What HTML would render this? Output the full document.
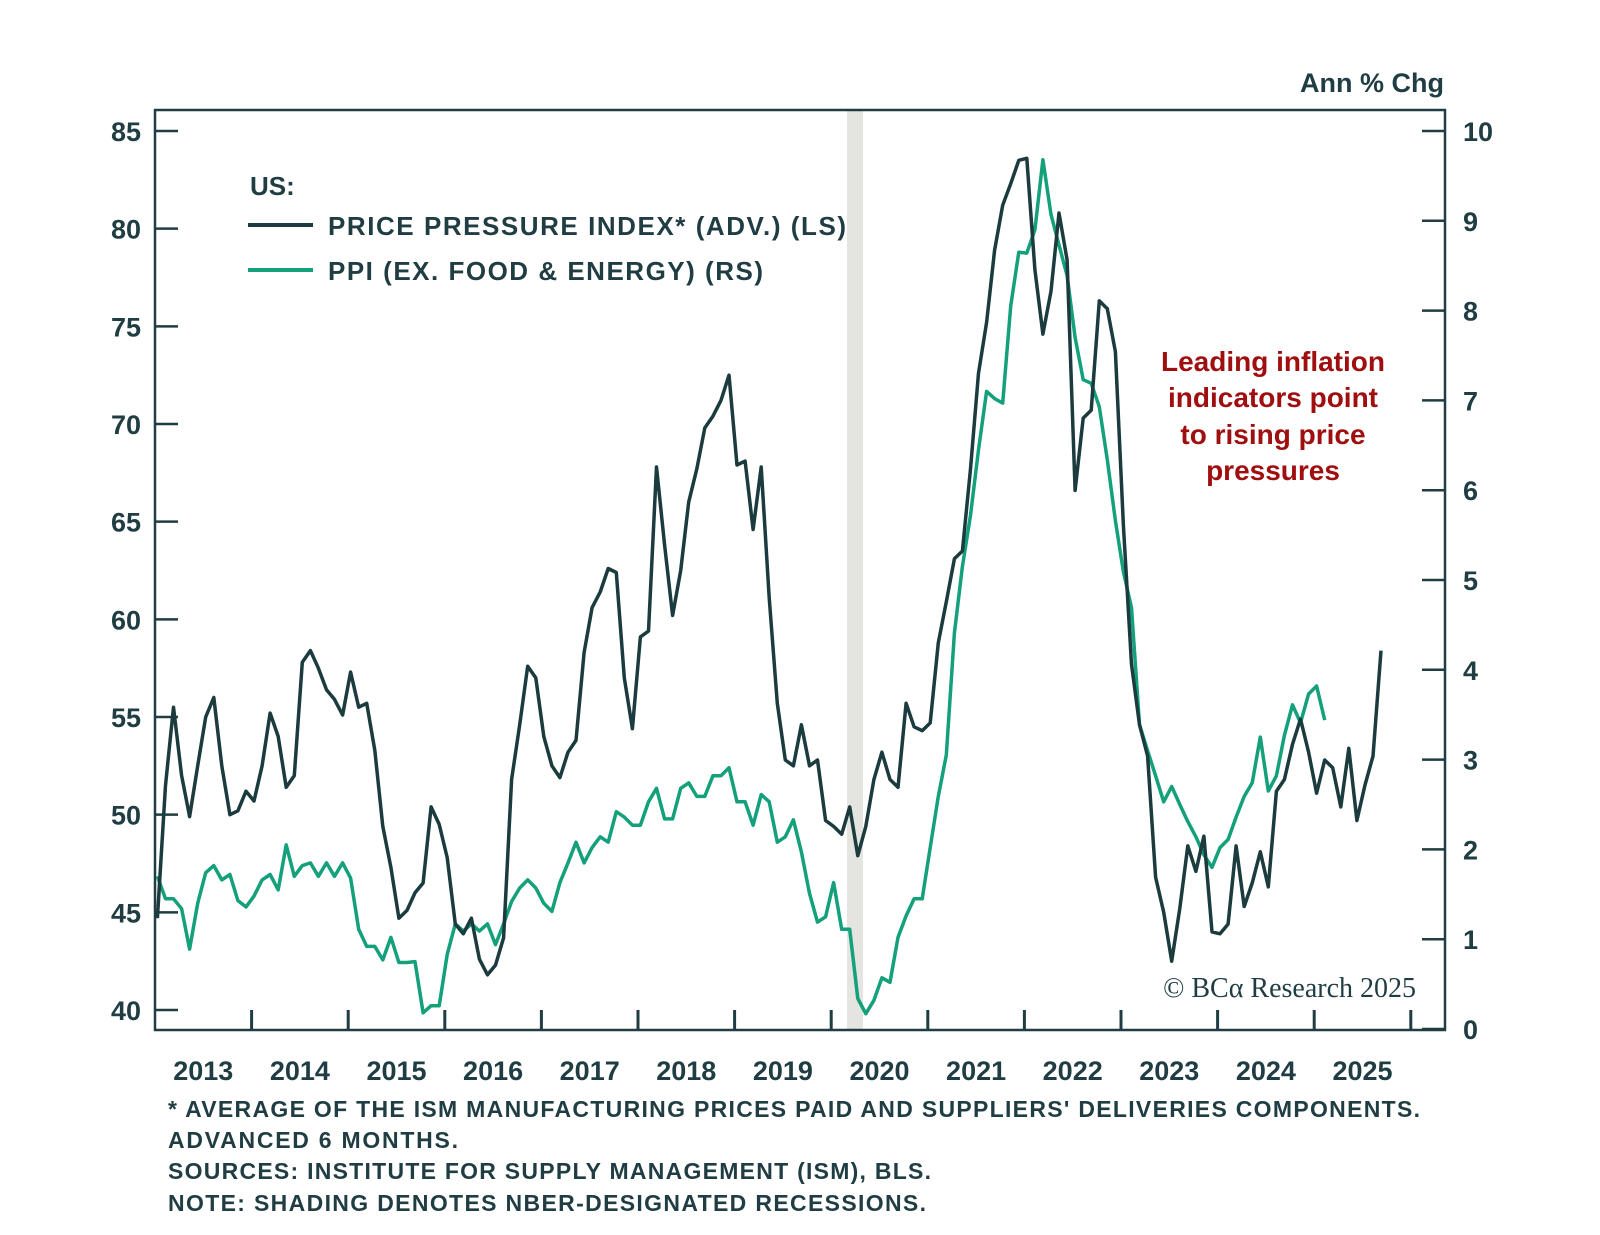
<!DOCTYPE html>
<html><head><meta charset="utf-8">
<style>
html,body{margin:0;padding:0;background:#fff;}
body{width:1600px;height:1230px;overflow:hidden;font-family:"Liberation Sans",sans-serif;}
svg text{font-family:"Liberation Sans",sans-serif;}
</style></head>
<body>
<svg id="chart" width="1600" height="1230" viewBox="0 0 1600 1230" xmlns="http://www.w3.org/2000/svg">
  <rect x="847" y="111" width="16" height="918" fill="#e4e4e0"/>
  <g id="ticks"></g>
  <g id="series"></g>
  <rect x="155" y="110" width="1290" height="920" fill="none" stroke="#1f3d42" stroke-width="2.5"/>
  <text x="1444" y="92" text-anchor="end" font-size="27" font-weight="bold" fill="#1f3d42">Ann % Chg</text>
  <text x="250" y="195" font-size="26" font-weight="bold" fill="#1f3d42">US:</text>
  <line x1="248" y1="225" x2="313" y2="225" stroke="#1b3b3e" stroke-width="4"/>
  <text x="328" y="235" font-size="26" font-weight="bold" fill="#1f3d42" textLength="518" lengthAdjust="spacing">PRICE PRESSURE INDEX* (ADV.) (LS)</text>
  <line x1="248" y1="270" x2="313" y2="270" stroke="#13a07a" stroke-width="4"/>
  <text x="328" y="280" font-size="26" font-weight="bold" fill="#1f3d42" textLength="435" lengthAdjust="spacing">PPI (EX. FOOD &amp; ENERGY) (RS)</text>
  <g font-size="28" font-weight="bold" fill="#a00f0f" text-anchor="middle">
    <text x="1273" y="371">Leading inflation</text>
    <text x="1273" y="407">indicators point</text>
    <text x="1273" y="444">to rising price</text>
    <text x="1273" y="480">pressures</text>
  </g>
  <text x="1416" y="997" text-anchor="end" font-size="28" fill="#1f3d42" style="font-family:'Liberation Serif',serif">© BCα Research 2025</text>
  <g font-size="23" font-weight="bold" fill="#1f3d42">
    <text x="168" y="1117" textLength="1252" lengthAdjust="spacing">* AVERAGE OF THE ISM MANUFACTURING PRICES PAID AND SUPPLIERS' DELIVERIES COMPONENTS.</text>
    <text x="168" y="1148" textLength="290" lengthAdjust="spacing">ADVANCED 6 MONTHS.</text>
    <text x="168" y="1179" textLength="763" lengthAdjust="spacing">SOURCES: INSTITUTE FOR SUPPLY MANAGEMENT (ISM), BLS.</text>
    <text x="168" y="1211" textLength="758" lengthAdjust="spacing">NOTE: SHADING DENOTES NBER-DESIGNATED RECESSIONS.</text>
  </g>
</svg>
<script>
const startYear = 2013;
const yearLabels = ['2013','2014','2015','2016','2017','2018','2019','2020','2021','2022','2023','2024','2025'];
const leftTicks = [40,45,50,55,60,65,70,75,80,85];
const rightTicks = [0,1,2,3,4,5,6,7,8,9,10];
const priceIndex = [44.7,51.5,55.5,52,49.9,52.5,55,56,52.5,50,50.2,51.2,50.7,52.5,55.2,54,51.4,52,57.8,58.4,57.5,56.4,55.9,55.1,57.3,55.5,55.7,53.3,49.4,47.3,44.7,45.1,46,46.5,50.4,49.5,47.8,44.4,43.9,44.7,42.6,41.8,42.3,43.7,51.8,54.6,57.6,57,54,52.5,51.9,53.2,53.8,58.3,60.6,61.4,62.6,62.4,57,54.4,59.1,59.4,67.8,63.8,60.2,62.5,66,67.7,69.8,70.4,71.2,72.5,67.9,68.1,64.6,67.8,61.1,55.7,52.8,52.5,54.6,52.5,52.8,49.7,49.4,49,50.4,47.9,49.4,51.8,53.2,51.8,51.4,55.7,54.5,54.3,54.7,58.8,60.9,63.1,63.5,67.7,72.6,75.2,78.9,81.2,82.3,83.5,83.6,77.9,74.6,76.8,80.8,78.4,66.6,70.3,70.7,76.3,75.9,73.7,64.8,57.7,54.6,53,46.8,45,42.5,45.2,48.4,47.1,48.9,44,43.9,44.4,48.4,45.3,46.5,48.1,46.3,51.2,51.8,53.6,54.9,53.2,51.1,52.8,52.4,50.4,53.4,49.7,51.5,53,58.4];
const ppiCore = [1.70,1.45,1.45,1.34,0.89,1.40,1.74,1.82,1.66,1.72,1.43,1.36,1.48,1.66,1.72,1.55,2.05,1.70,1.82,1.85,1.70,1.85,1.70,1.85,1.68,1.11,0.92,0.92,0.77,1.02,0.74,0.74,0.75,0.18,0.26,0.26,0.83,1.17,1.09,1.17,1.09,1.17,0.94,1.17,1.42,1.57,1.66,1.57,1.40,1.31,1.63,1.85,2.08,1.85,2.02,2.14,2.08,2.42,2.36,2.27,2.27,2.53,2.68,2.34,2.34,2.68,2.74,2.59,2.59,2.82,2.82,2.91,2.53,2.53,2.27,2.61,2.53,2.08,2.14,2.33,1.97,1.51,1.19,1.25,1.63,1.11,1.11,0.34,0.17,0.32,0.57,0.52,1.02,1.26,1.45,1.45,2.02,2.59,3.05,4.41,5.15,5.72,6.45,7.10,7.02,6.97,8.05,8.65,8.64,8.90,9.68,9.07,8.73,8.39,7.70,7.23,7.19,6.93,6.34,5.66,5.09,4.69,3.39,3.10,2.82,2.53,2.70,2.50,2.31,2.14,1.94,1.80,2.02,2.11,2.36,2.59,2.74,3.25,2.65,2.82,3.27,3.61,3.41,3.73,3.82,3.44];

const NS='http://www.w3.org/2000/svg';
function xScale(t){return 155 + (t - startYear) * 96.6;}
function yLeft(v){return 131 + (85 - v) * (1010 - 131) / 45;}
function yRight(v){return 1029 - v * (1029 - 131) / 10;}
function monthT(i){return startYear + (i + 0.3) / 12;}

const ticks=document.getElementById('ticks');
const series=document.getElementById('series');
function mk(tag,attrs,parent){const e=document.createElementNS(NS,tag);for(const k in attrs)e.setAttribute(k,attrs[k]);parent.appendChild(e);return e;}

leftTicks.forEach(v=>{
  const y=yLeft(v);
  const l=mk('line',{x1:155,x2:178,y1:y,y2:y,stroke:'#1f3d42','stroke-width':2.5},ticks);
  
  
  const t=mk('text',{x:141,y:y+10,'text-anchor':'end','font-size':27,'font-weight':'bold',fill:'#1f3d42'},ticks);
  t.textContent=v;
  
  
});
rightTicks.forEach(v=>{
  const y=yRight(v);
  const l=mk('line',{x1:1422,x2:1445,y1:y,y2:y,stroke:'#1f3d42','stroke-width':2.5},ticks);
  
  
  const t=mk('text',{x:1463,y:y+10,'text-anchor':'start','font-size':27,'font-weight':'bold',fill:'#1f3d42'},ticks);
  t.textContent=v;
  
  
});
yearLabels.forEach((lab,i)=>{
  const yr=startYear+i;
  const xt=xScale(yr+1);
  const l=mk('line',{x1:xt,x2:xt,y1:1010,y2:1030,stroke:'#1f3d42','stroke-width':3},ticks);
  
  
  const t=mk('text',{x:xScale(yr+0.5),y:1080,'text-anchor':'middle','font-size':27,'font-weight':'bold',fill:'#1f3d42'},ticks);
  t.textContent=lab;
  
  
});

const ppiPath=ppiCore.map((v,i)=>(i?'L':'M')+xScale(monthT(i)).toFixed(1)+','+yRight(v).toFixed(1)).join('');
const g=mk('path',{d:ppiPath,fill:'none',stroke:'#13a07a','stroke-width':3.5,'stroke-linejoin':'round'},series);


const piPath=priceIndex.map((v,i)=>(i?'L':'M')+xScale(monthT(i)).toFixed(1)+','+yLeft(v).toFixed(1)).join('');
const d=mk('path',{d:piPath,fill:'none',stroke:'#1b3b3e','stroke-width':3.5,'stroke-linejoin':'round'},series);


</script>
</body></html>
